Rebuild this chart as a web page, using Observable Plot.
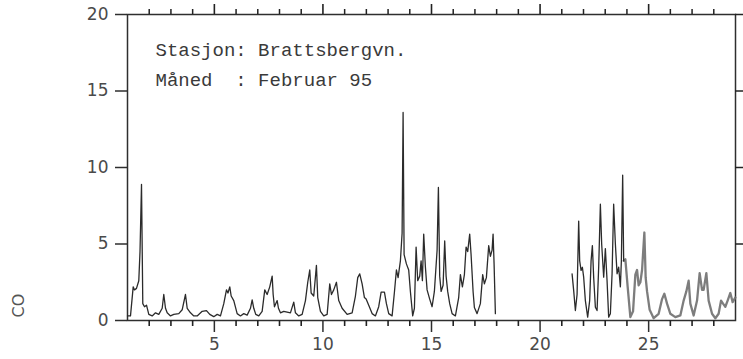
<!DOCTYPE html>
<html>
<head>
<meta charset="utf-8">
<script src="https://cdn.jsdelivr.net/npm/d3@7"></script>
<script src="https://cdn.jsdelivr.net/npm/@observablehq/plot@0.6"></script>
<style>
  html, body { margin: 0; padding: 0; background: white; }
  svg text { white-space: pre; }
</style>
</head>
<body>
<div id="chart"></div>
<script>
// Series 1: 1–18 February (dark line)
const day1 = [1.000,1.138,1.262,1.322,1.414,1.520,1.576,1.645,1.704,1.783,1.875,1.981,2.137,2.289,2.441,2.598,2.671,2.750,2.828,2.980,
  3.132,3.362,3.518,3.670,3.749,3.901,4.053,4.209,4.439,4.637,4.789,4.973,5.130,5.282,5.434,5.558,5.627,5.710,5.774,5.894,
  6.050,6.202,6.354,6.511,6.663,6.741,6.815,6.907,7.045,7.201,7.321,7.431,7.551,7.662,7.708,7.767,7.892,7.952,8.044,8.196,
  8.352,8.504,8.656,8.734,8.886,9.043,9.195,9.301,9.393,9.457,9.577,9.701,9.761,9.886,10.038,10.194,10.314,10.392,10.498,10.622,
  10.728,10.884,11.115,11.345,11.497,11.603,11.695,11.805,11.911,11.989,12.109,12.265,12.417,12.569,12.680,12.832,12.924,13.030,13.186,13.292,
  13.384,13.462,13.568,13.646,13.692,13.738,13.844,13.950,14.028,14.134,14.213,14.291,14.365,14.457,14.521,14.581,14.641,14.719,14.797,14.917,
  15.027,15.133,15.258,15.318,15.378,15.442,15.534,15.608,15.672,15.746,15.838,15.949,16.101,16.252,16.331,16.423,16.515,16.593,16.667,16.759,
  16.823,16.915,16.975,17.099,17.251,17.357,17.436,17.528,17.634,17.712,17.790,17.836,17.882,17.942];
const co1 = [0.3,0.3,2.2,2.0,2.1,2.6,4.5,8.9,1.1,0.9,1.0,0.4,0.3,0.5,0.4,0.8,1.7,0.8,0.5,0.3,
  0.4,0.45,0.7,1.7,0.8,0.5,0.3,0.3,0.6,0.65,0.4,0.25,0.4,0.3,1.1,2.0,1.8,2.2,1.6,1.3,
  0.45,0.3,0.45,0.35,0.8,1.35,0.8,0.4,0.3,0.6,2.0,1.7,2.2,2.9,1.7,0.9,1.3,0.8,0.5,0.6,
  0.55,0.5,1.2,0.5,0.3,0.4,1.3,2.5,3.3,1.8,1.6,3.6,1.5,0.6,0.3,0.4,2.4,1.7,2.0,2.5,
  1.3,0.8,0.4,0.5,1.6,2.8,3.05,2.4,1.5,1.4,1.0,0.45,0.3,0.9,1.85,1.85,1.1,0.45,0.3,1.85,
  3.3,2.8,3.9,5.7,13.6,4.3,3.7,3.3,1.9,0.3,0.8,4.8,2.6,2.9,3.9,2.6,5.65,3.5,2.0,1.4,
  0.9,1.9,4.6,8.7,2.9,1.9,2.3,5.2,2.9,1.9,1.1,0.45,0.3,1.5,3.0,2.2,3.0,4.8,4.5,5.65,
  4.3,1.9,0.85,0.45,1.1,3.0,2.4,2.8,4.9,4.2,4.6,5.65,3.7,0.45];

// Series 2: 21.5–23.9 February (dark line)
const day2 = [21.474,21.548,21.626,21.704,21.778,21.824,21.888,21.948,22.008,22.086,22.192,22.284,22.349,22.409,22.468,22.547,22.625,22.699,22.777,22.837,
  22.929,23.007,23.085,23.159,23.237,23.316,23.389,23.468,23.546,23.620,23.698,23.744,23.804,23.850];
const co2 = [3.05,1.95,0.65,1.7,6.5,3.9,3.27,3.48,2.83,1.3,0.22,1.3,3.9,4.9,2.83,0.87,0.65,3.48,7.6,5.0,
  2.83,4.7,2.6,0.22,0.44,3.05,7.6,5.0,3.05,3.48,2.2,3.9,9.5,3.9];

// Series 3: 23.9–29 February (grey line)
const day3 = [23.850,23.928,24.034,24.158,24.282,24.388,24.467,24.540,24.619,24.697,24.803,24.863,24.927,25.047,25.231,25.461,25.618,25.724,25.848,26.000,
  26.230,26.460,26.612,26.736,26.842,26.921,27.072,27.229,27.349,27.459,27.533,27.657,27.763,27.920,28.072,28.223,28.334,28.426,28.532,28.638,
  28.762,28.868,28.992];
const co3 = [3.9,4.0,2.2,0.22,0.6,3.0,3.3,2.3,2.5,3.3,5.75,2.8,1.9,0.7,0.15,0.44,1.4,1.75,1.1,0.44,
  0.22,0.33,1.3,1.9,2.6,1.1,0.33,1.3,3.1,2.0,2.0,3.1,1.3,0.44,0.15,0.44,1.3,1.1,0.9,1.3,
  1.8,1.2,1.5];

const xMajor = [5, 10, 15, 20, 25];
const xMinor = [2,3,4,6,7,8,9,11,12,13,14,16,17,18,19,21,22,23,24,26,27,28];
const yMajor = [0, 5, 10, 15, 20];
const yRight = [5, 10, 15, 20];
const stationText = "Stasjon: Brattsbergvn.";
const monthText = "Måned  : Februar 95";
const yLabel = "CO";

const dark = [
  ...day1.map((d, i) => ({day: d, co: co1[i], seg: "a"})),
  ...day2.map((d, i) => ({day: d, co: co2[i], seg: "b"}))
];
const grey = day3.map((d, i) => ({day: d, co: co3[i]}));

const W = 743, H = 359, ML = 127, MR = 8, MT = 14, MB = 39;
const FW = W - ML - MR, FH = H - MT - MB;
const axisColor = "#222";

const chart = Plot.plot({
  width: W,
  height: H,
  marginLeft: ML,
  marginRight: MR,
  marginTop: MT,
  marginBottom: MB,
  style: {fontFamily: "DejaVu Sans, sans-serif", fontSize: "17px", color: "#4a4a4a", background: "white"},
  x: {domain: [1, 29]},
  y: {domain: [0, 20]},
  marks: [
    Plot.frame({stroke: "#2e2e2e", strokeWidth: 1.5}),
    Plot.axisX({anchor: "bottom", ticks: xMajor, tickSize: 12, tickPadding: 5, stroke: "#2e2e2e", strokeWidth: 1.5, label: null}),
    Plot.axisY({anchor: "left", ticks: yMajor, tickSize: 12, tickPadding: 7, stroke: "#2e2e2e", strokeWidth: 1.5, label: null}),
    Plot.ruleX(xMinor, {x: d => d, insetTop: FH, insetBottom: -6, stroke: axisColor, strokeWidth: 1.6}),
    Plot.ruleX(xMajor, {x: d => d, insetTop: -10, insetBottom: FH, stroke: axisColor, strokeWidth: 1.6}),
    Plot.ruleX(xMinor, {x: d => d, insetTop: -5, insetBottom: FH, stroke: axisColor, strokeWidth: 1.5}),
    Plot.ruleY(yRight, {y: d => d, insetLeft: FW, insetRight: -8, stroke: axisColor, strokeWidth: 1.5}),
    Plot.line(grey, {x: "day", y: "co", stroke: "#6f6f6f", strokeWidth: 2.3, strokeOpacity: 0.9}),
    Plot.line(dark, {x: "day", y: "co", z: "seg", stroke: "#2b2b2b", strokeWidth: 1.3}),
    Plot.text([stationText], {frameAnchor: "top-left", text: d => d, dx: 28, dy: 35, textAnchor: "start", lineAnchor: "middle",
      fontFamily: "Liberation Mono, monospace", fontSize: 19, fill: "#3a3a3a"}),
    Plot.text([monthText], {frameAnchor: "top-left", text: d => d, dx: 28, dy: 65, textAnchor: "start", lineAnchor: "middle",
      fontFamily: "Liberation Mono, monospace", fontSize: 19, fill: "#3a3a3a"}),
    Plot.text([yLabel], {frameAnchor: "bottom-left", text: d => d, dx: -109, dy: -3, rotate: -90, lineAnchor: "middle",
      fontSize: 16, fill: "#555"})
  ]
});
document.getElementById("chart").appendChild(chart);
</script>
</body>
</html>
